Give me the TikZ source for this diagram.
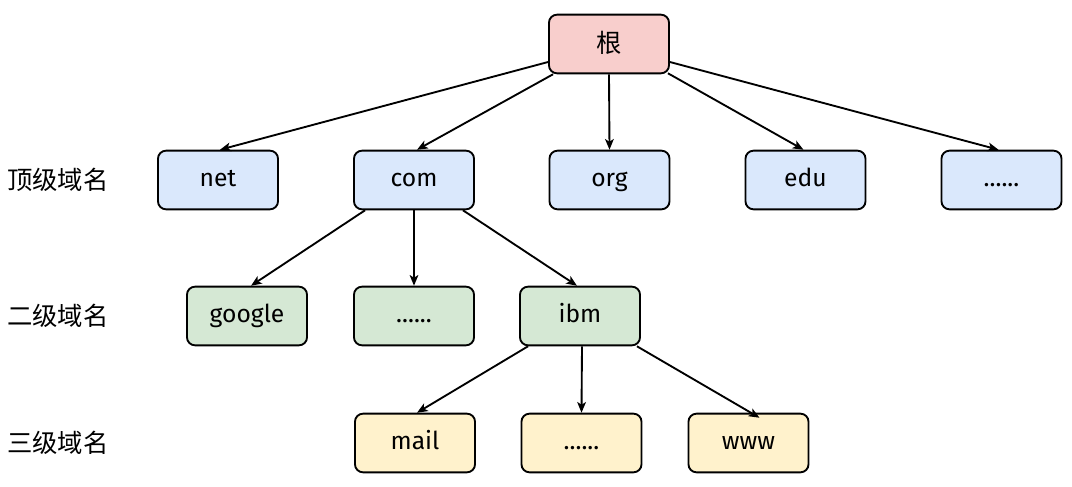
\documentclass[tikz,border=0pt]{standalone}
\usepackage{fontspec}
\setmainfont{Fira Sans}
\newfontfamily\cjk{Noto Sans CJK SC}
\usetikzlibrary{arrows.meta}

\definecolor{rootfill}{HTML}{F8CECC}
\definecolor{tldfill}{HTML}{DAE8FC}
\definecolor{sldfill}{HTML}{D5E8D4}
\definecolor{thirdfill}{HTML}{FFF2CC}

\begin{document}
\begin{tikzpicture}[x=0.75pt,y=-0.75pt,
  box/.style={draw=black, line width=1.4pt, rounded corners=6pt,
    minimum width=90pt, minimum height=44pt, inner sep=0pt,
    text height=9.8pt, text depth=0pt,
    font=\fontsize{18.5}{20}\selectfont},
  rootbox/.style={box, fill=rootfill, text height=15.2pt, text depth=1.9pt,
    font=\cjk\fontsize{19}{21}\selectfont},
  tldbox/.style={box, fill=tldfill},
  sldbox/.style={box, fill=sldfill},
  thirdbox/.style={box, fill=thirdfill},
  level/.style={anchor=west, inner sep=0pt, font=\cjk\fontsize{19}{21}\selectfont},
  link/.style={line width=1.4pt, -{Stealth[length=8pt,width=6.5pt,inset=2pt]}}]

\useasboundingbox (0,0) rectangle (1072,486);

% root
\node[rootbox] (root) at (609,44) {根};

% top-level domains
\node[tldbox] (net) at (218,180) {net};
\node[tldbox] (com) at (414,180) {com};
\node[tldbox] (org) at (609.5,180) {org};
\node[tldbox] (edu) at (805.5,180) {edu};
\node[tldbox] (tldmore) at (1001.5,180) {......};

% second-level domains
\node[sldbox] (google) at (247,316) {google};
\node[sldbox] (sldmore) at (414,316) {......};
\node[sldbox] (ibm) at (580,316) {ibm};

% third-level domains
\node[thirdbox] (mail) at (415,443) {mail};
\node[thirdbox] (thirdmore) at (581.5,443) {......};
\node[thirdbox] (www) at (748.5,443) {www};

% level labels
\node[level] (l1) at (7,180) {顶级域名};
\node[level] (l2) at (7,316) {二级域名};
\node[level] (l3) at (7,443) {三级域名};

% root -> top level
\draw[link] ([shift={(0,18)}]root.west) -- ([shift={(2,0)}]net.north);
\draw[link] ([shift={(5,0)}]root.south west) -- ([shift={(3,0)}]com.north);
\draw[link] (root.south) -- (org.north);
\draw[link] ([shift={(-2,-1)}]root.south east) -- ([shift={(-2,0)}]edu.north);
\draw[link] ([shift={(0,18)}]root.east) -- ([shift={(-3,0)}]tldmore.north);

% com -> second level
\draw[link] ([shift={(12,0)}]com.south west) -- ([shift={(4,0)}]google.north);
\draw[link] (com.south) -- (sldmore.north);
\draw[link] ([shift={(-12,0)}]com.south east) -- ([shift={(-3,0)}]ibm.north);

% ibm -> third level
\draw[link] ([shift={(9,0)}]ibm.south west) -- ([shift={(2,0)}]mail.north);
\draw[link] ([shift={(2,0)}]ibm.south) -- (thirdmore.north);
\draw[link] ([shift={(-4,0)}]ibm.south east) -- ([shift={(11,5)}]www.north);

\end{tikzpicture}
\end{document}
